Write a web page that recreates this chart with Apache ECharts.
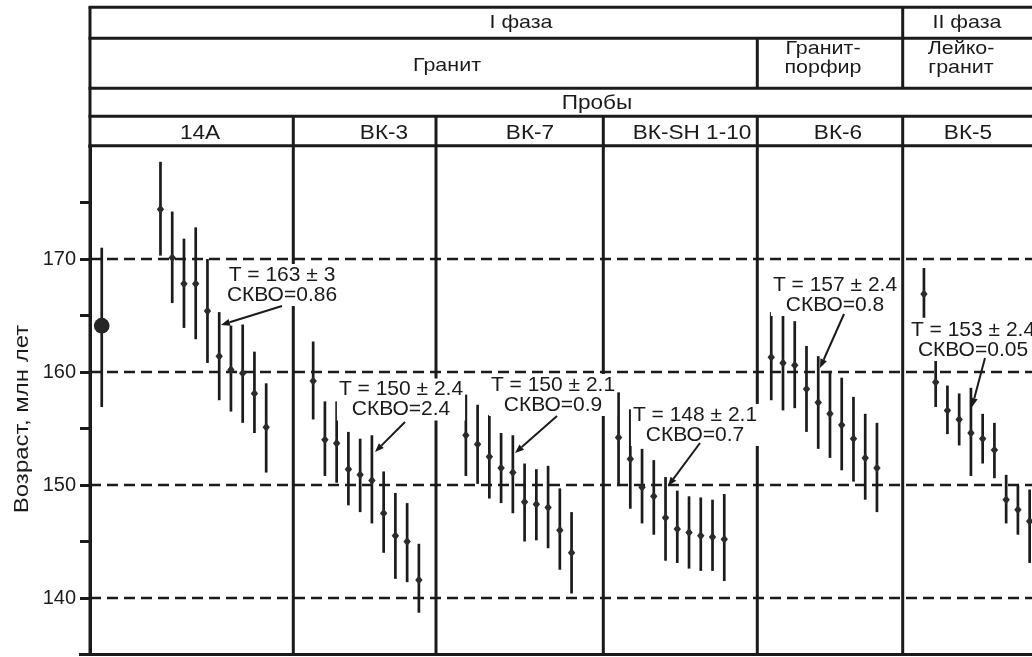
<!DOCTYPE html>
<html><head><meta charset="utf-8">
<script src="https://cdn.jsdelivr.net/npm/echarts@6/dist/echarts.min.js"></script>
<style>html,body{margin:0;padding:0;background:#fff}#c{width:1032px;height:657px}</style>
</head><body><div id="c"></div>
<script>
// ---- data ----
const samples = ['14A', 'ВК-3', 'ВК-7', 'ВК-SH 1-10', 'ВК-6', 'ВК-5'];
const yTicks = [140, 150, 160, 170];
const meanAge = 164.1, meanLow = 156.9, meanHigh = 171.0;

const age14A  = [174.4, 170.1, 167.8, 167.8, 165.4, 161.4, 160.2, 159.9, 158.1, 155.1];
const low14A  = [170.3, 166.1, 163.9, 162.9, 160.8, 157.5, 156.5, 155.5, 154.6, 151.1];
const high14A = [178.6, 174.2, 171.8, 172.8, 170.0, 165.3, 164.1, 164.2, 161.8, 159.0];

const ageBK3  = [159.2, 154.0, 153.7, 151.4, 150.9, 150.4, 147.5, 145.5, 145.0, 141.6];
const lowBK3  = [155.8, 150.8, 150.2, 148.2, 147.6, 146.6, 144.0, 141.7, 141.4, 138.7];
const highBK3 = [162.7, 157.4, 157.4, 154.7, 154.1, 154.4, 151.2, 149.3, 148.4, 144.8];

const ageBK7  = [154.4, 153.6, 152.5, 151.5, 151.1, 148.5, 148.3, 148.0, 146.0, 144.0];
const lowBK7  = [150.8, 150.1, 148.8, 148.4, 147.5, 145.0, 145.1, 144.4, 142.5, 140.4];
const highBK7 = [158.0, 157.1, 156.2, 154.6, 154.4, 151.9, 151.4, 151.7, 149.7, 147.6];

const ageSH  = [154.2, 152.3, 149.8, 149.0, 147.1, 146.1, 145.8, 145.5, 145.4, 145.2];
const lowSH  = [149.9, 147.9, 146.6, 145.6, 143.3, 143.1, 142.6, 142.4, 142.4, 141.5];
const highSH = [158.2, 156.7, 153.2, 152.2, 150.7, 149.5, 149.0, 148.9, 148.7, 149.2];

const ageBK6  = [161.3, 160.8, 160.6, 158.5, 157.3, 156.3, 155.3, 154.1, 152.4, 151.5];
const lowBK6  = [157.5, 156.6, 156.8, 154.7, 153.2, 152.4, 151.3, 150.3, 148.7, 147.6];
const highBK6 = [165.3, 165.0, 164.5, 162.3, 161.4, 160.1, 159.5, 157.8, 156.3, 155.5];

const ageBK5  = [166.9, 159.1, 156.6, 155.8, 154.6, 154.1, 153.1, 148.7, 147.8, 146.8];
const lowBK5  = [164.8, 156.9, 154.5, 153.5, 150.8, 151.9, 150.6, 146.6, 145.6, 143.1];
const highBK5 = [169.2, 161.2, 158.8, 158.1, 158.6, 156.3, 155.5, 150.9, 150.0, 149.6];

const annotTexts = [
  'T = 163 ± 3\nСКВО=0.86',
  'T = 150 ± 2.4\nСКВО=2.4',
  'T = 150 ± 2.1\nСКВО=0.9',
  'T = 148 ± 2.1\nСКВО=0.7',
  'T = 157 ± 2.4\nСКВО=0.8',
  'T = 153 ± 2.4\nСКВО=0.05'
];
const headerPhase = ['I фаза', 'II фаза'];
const headerRock = ['Гранит', 'Гранит-\nпорфир', 'Лейко-\nгранит'];
const headerProbes = 'Пробы';
const yName = 'Возраст, млн лет';

// ---- build series data ----
const groups = [
  [age14A, low14A, high14A], [ageBK3, lowBK3, highBK3], [ageBK7, lowBK7, highBK7],
  [ageSH, lowSH, highSH], [ageBK6, lowBK6, highBK6], [ageBK5, lowBK5, highBK5]
];
const pts = [];
groups.forEach((g, gi) => {
  g[0].forEach((v, i) => pts.push([5 + 13 * gi + i, g[1][i], g[2][i], v]));
});

const INK = '#1b1b1b';
const FONT = '"Liberation Sans", Arial, sans-serif';

function barItem(params, api) {
  const x = api.value(0);
  const lo = api.coord([x, api.value(1)]), hi = api.coord([x, api.value(2)]), p = api.coord([x, api.value(3)]);
  return {type: 'group', children: [
    {type: 'line', shape: {x1: lo[0], y1: lo[1], x2: hi[0], y2: hi[1]}, style: {stroke: INK, lineWidth: 2.7}},
    {type: 'polygon', shape: {points: [[p[0], p[1] - 4.5], [p[0] + 3.7, p[1]], [p[0], p[1] + 4.5], [p[0] - 3.7, p[1]]]}, style: {fill: '#2b2b2b'}}
  ]};
}
function dotItem(params, api) {
  const x = api.value(0);
  const lo = api.coord([x, api.value(1)]), hi = api.coord([x, api.value(2)]), p = api.coord([x, api.value(3)]);
  return {type: 'group', children: [
    {type: 'line', shape: {x1: lo[0], y1: lo[1], x2: hi[0], y2: hi[1]}, style: {stroke: INK, lineWidth: 2.7}},
    {type: 'circle', shape: {cx: p[0], cy: p[1], r: 7.8}, style: {fill: '#262626'}}
  ]};
}

// ---- layout (pixels) ----
const hLines = [7.3, 38.3, 88.3, 116.3, 145.7];
const vSeg = [
  [90, 7.3, 656], [902.7, 7.3, 88.3], [757.3, 38.3, 88.3],
  [293.3, 116.3, 656], [436, 116.3, 656], [603.3, 116.3, 656], [757.3, 116.3, 656], [902.7, 116.3, 656]
];
const annotPos = [
  {x: 282, y: 285, from: [282, 306], to: [221, 325]},
  {x: 401, y: 399.5, from: [405, 422], to: [375, 452]},
  {x: 553, y: 395, from: [557, 416], to: [515, 453]},
  {x: 695, y: 425, from: [700, 443], to: [668, 486]},
  {x: 835, y: 295, from: [844, 314], to: [820, 368]},
  {x: 973, y: 340, from: [985, 358], to: [972, 407]}
];
const sampleX = [200, 384, 530, 692, 838, 968];
const HSX = 1.13;

const graphic = [];
hLines.forEach(y => graphic.push({type: 'line', z: 50, shape: {x1: 88.5, y1: y, x2: 1032, y2: y}, style: {stroke: INK, lineWidth: 3}}));
vSeg.forEach(s => graphic.push({type: 'line', z: 50, shape: {x1: s[0], y1: s[1], x2: s[0], y2: s[2]}, style: {stroke: INK, lineWidth: 3}}));
graphic.push({type: 'line', z: 50, shape: {x1: 79, y1: 654.5, x2: 1032, y2: 654.5}, style: {stroke: INK, lineWidth: 3.2}});
graphic.push({type: 'rect', z: 49, shape: {x: 74, y: 140, width: 14.5, height: 10}, style: {fill: '#fff'}});

function txt(t, x, y, size, lh) {
  return {type: 'text', z: 60, x: x, y: y, scaleX: HSX, style: {text: t, fill: INK, font: size + 'px ' + FONT, align: 'center', verticalAlign: 'middle', lineHeight: lh || size}};
}
graphic.push(txt(headerPhase[0], 521, 23, 19));
graphic.push(txt(headerPhase[1], 967, 23, 19));
graphic.push(txt(headerRock[0], 447, 66, 19));
graphic.push(txt(headerRock[1], 823, 58, 19, 19));
graphic.push(txt(headerRock[2], 961, 58, 19, 19));
graphic.push(txt(headerProbes, 597, 103, 20));
samples.forEach((s, i) => graphic.push(txt(s, sampleX[i], 133, 20)));
graphic.push({type: 'text', z: 60, x: 22, y: 419, rotation: Math.PI / 2, scaleX: 1.2,
  style: {text: yName, fill: INK, font: '20px ' + FONT, align: 'center', verticalAlign: 'middle'}});

annotTexts.forEach((t, i) => {
  const a = annotPos[i];
  graphic.push({type: 'text', z: 70, x: a.x, y: a.y,
    style: {text: t, fill: INK, font: '21px ' + FONT, align: 'center', verticalAlign: 'middle', lineHeight: 20,
      backgroundColor: '#fff', padding: [1, 2]}});
  const [x1, y1] = a.from, [x2, y2] = a.to;
  const ang = Math.atan2(y2 - y1, x2 - x1), L = 9, W = 3.5;
  const bx = x2 - L * Math.cos(ang), by = y2 - L * Math.sin(ang);
  graphic.push({type: 'line', z: 71, shape: {x1: x1, y1: y1, x2: bx, y2: by}, style: {stroke: INK, lineWidth: 2}});
  graphic.push({type: 'polygon', z: 71, shape: {points: [[x2, y2],
    [bx + W * Math.sin(ang), by - W * Math.cos(ang)], [bx - W * Math.sin(ang), by + W * Math.cos(ang)]]}, style: {fill: INK}});
});

const chart = echarts.init(document.getElementById('c'), null, {renderer: 'canvas'});
chart.setOption({
  backgroundColor: '#fff',
  animation: false,
  grid: {left: 90, top: 146, width: 942, height: 508.5},
  xAxis: {type: 'value', min: -1, max: 79.2, show: false},
  yAxis: {type: 'value', min: 135, max: 180, interval: 5,
    axisLine: {show: true, onZero: false, lineStyle: {color: INK, width: 3}},
    axisTick: {show: true, length: 10, lineStyle: {color: INK, width: 3}},
    splitLine: {show: false},
    axisLabel: {margin: 14, color: INK, fontSize: 20, fontFamily: FONT,
      formatter: v => (yTicks.indexOf(v) >= 0 ? String(v) : '')}
  },
  series: [
    {type: 'custom', renderItem: barItem, data: pts, z: 5,
      markLine: {silent: true, symbol: 'none', label: {show: false},
        lineStyle: {color: INK, width: 2.4, type: [11, 6]},
        data: yTicks.map(v => ({yAxis: v}))}},
    {type: 'custom', renderItem: dotItem, data: [[0, meanLow, meanHigh, meanAge]], z: 5}
  ],
  graphic: graphic
});
</script></body></html>
